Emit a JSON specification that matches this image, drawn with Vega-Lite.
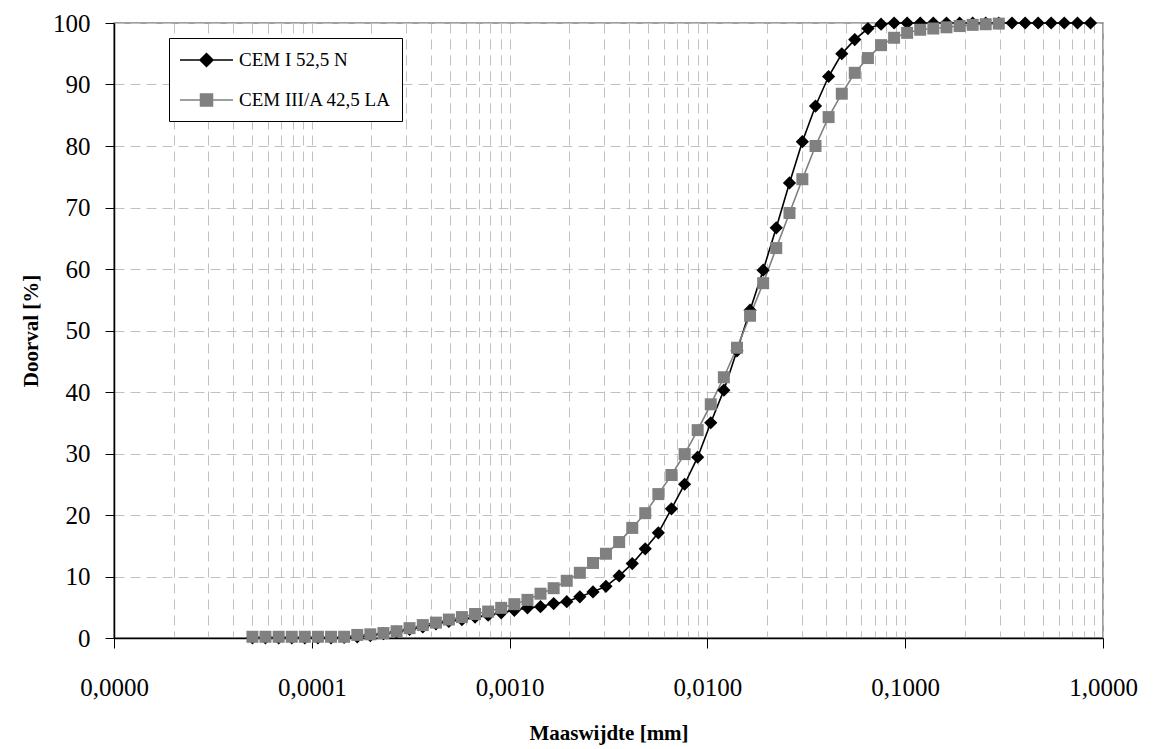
{
  "$schema": "https://vega.github.io/schema/vega-lite/v6.json",
  "width": 989,
  "height": 615,
  "autosize": {"type": "none"},
  "padding": {"left": 114, "top": 23, "right": 50, "bottom": 111},
  "background": "white",
  "config": {"view": {"stroke": "#808080", "strokeWidth": 1.5}, "font": "Liberation Serif"},
  "data": {"values": [
    {"series": "CEM I 52,5 N", "size": 0.0000501, "pct": 0},
    {"series": "CEM I 52,5 N", "size": 0.0000583, "pct": 0},
    {"series": "CEM I 52,5 N", "size": 0.000068, "pct": 0},
    {"series": "CEM I 52,5 N", "size": 0.0000792, "pct": 0},
    {"series": "CEM I 52,5 N", "size": 0.0000922, "pct": 0},
    {"series": "CEM I 52,5 N", "size": 0.0001074, "pct": 0},
    {"series": "CEM I 52,5 N", "size": 0.0001251, "pct": 0},
    {"series": "CEM I 52,5 N", "size": 0.0001457, "pct": 0.1},
    {"series": "CEM I 52,5 N", "size": 0.0001698, "pct": 0.2},
    {"series": "CEM I 52,5 N", "size": 0.0001977, "pct": 0.4},
    {"series": "CEM I 52,5 N", "size": 0.0002303, "pct": 0.7},
    {"series": "CEM I 52,5 N", "size": 0.0002682, "pct": 1.0},
    {"series": "CEM I 52,5 N", "size": 0.000312, "pct": 1.4},
    {"series": "CEM I 52,5 N", "size": 0.000364, "pct": 1.8},
    {"series": "CEM I 52,5 N", "size": 0.000424, "pct": 2.3},
    {"series": "CEM I 52,5 N", "size": 0.000493, "pct": 2.7},
    {"series": "CEM I 52,5 N", "size": 0.000574, "pct": 3.0},
    {"series": "CEM I 52,5 N", "size": 0.000669, "pct": 3.4},
    {"series": "CEM I 52,5 N", "size": 0.000779, "pct": 3.7},
    {"series": "CEM I 52,5 N", "size": 0.000907, "pct": 4.1},
    {"series": "CEM I 52,5 N", "size": 0.001057, "pct": 4.5},
    {"series": "CEM I 52,5 N", "size": 0.001231, "pct": 4.9},
    {"series": "CEM I 52,5 N", "size": 0.001433, "pct": 5.1},
    {"series": "CEM I 52,5 N", "size": 0.00167, "pct": 5.6},
    {"series": "CEM I 52,5 N", "size": 0.001945, "pct": 5.9},
    {"series": "CEM I 52,5 N", "size": 0.002265, "pct": 6.7},
    {"series": "CEM I 52,5 N", "size": 0.00264, "pct": 7.5},
    {"series": "CEM I 52,5 N", "size": 0.00307, "pct": 8.4},
    {"series": "CEM I 52,5 N", "size": 0.00358, "pct": 10.1},
    {"series": "CEM I 52,5 N", "size": 0.00417, "pct": 12.1},
    {"series": "CEM I 52,5 N", "size": 0.00485, "pct": 14.5},
    {"series": "CEM I 52,5 N", "size": 0.00565, "pct": 17.1},
    {"series": "CEM I 52,5 N", "size": 0.00658, "pct": 21.0},
    {"series": "CEM I 52,5 N", "size": 0.00767, "pct": 25.0},
    {"series": "CEM I 52,5 N", "size": 0.00893, "pct": 29.4},
    {"series": "CEM I 52,5 N", "size": 0.0104, "pct": 35.0},
    {"series": "CEM I 52,5 N", "size": 0.01211, "pct": 40.3},
    {"series": "CEM I 52,5 N", "size": 0.01411, "pct": 46.7},
    {"series": "CEM I 52,5 N", "size": 0.01643, "pct": 53.3},
    {"series": "CEM I 52,5 N", "size": 0.01914, "pct": 59.8},
    {"series": "CEM I 52,5 N", "size": 0.02229, "pct": 66.7},
    {"series": "CEM I 52,5 N", "size": 0.026, "pct": 74.0},
    {"series": "CEM I 52,5 N", "size": 0.0302, "pct": 80.7},
    {"series": "CEM I 52,5 N", "size": 0.0352, "pct": 86.5},
    {"series": "CEM I 52,5 N", "size": 0.041, "pct": 91.3},
    {"series": "CEM I 52,5 N", "size": 0.0478, "pct": 95.0},
    {"series": "CEM I 52,5 N", "size": 0.0556, "pct": 97.3},
    {"series": "CEM I 52,5 N", "size": 0.0648, "pct": 99.1},
    {"series": "CEM I 52,5 N", "size": 0.0755, "pct": 99.8},
    {"series": "CEM I 52,5 N", "size": 0.0879, "pct": 100},
    {"series": "CEM I 52,5 N", "size": 0.1023, "pct": 100},
    {"series": "CEM I 52,5 N", "size": 0.1191, "pct": 100},
    {"series": "CEM I 52,5 N", "size": 0.1387, "pct": 100},
    {"series": "CEM I 52,5 N", "size": 0.1617, "pct": 100},
    {"series": "CEM I 52,5 N", "size": 0.1884, "pct": 100},
    {"series": "CEM I 52,5 N", "size": 0.2193, "pct": 100},
    {"series": "CEM I 52,5 N", "size": 0.2553, "pct": 100},
    {"series": "CEM I 52,5 N", "size": 0.2972, "pct": 100},
    {"series": "CEM I 52,5 N", "size": 0.3467, "pct": 100},
    {"series": "CEM I 52,5 N", "size": 0.404, "pct": 100},
    {"series": "CEM I 52,5 N", "size": 0.47, "pct": 100},
    {"series": "CEM I 52,5 N", "size": 0.547, "pct": 100},
    {"series": "CEM I 52,5 N", "size": 0.637, "pct": 100},
    {"series": "CEM I 52,5 N", "size": 0.743, "pct": 100},
    {"series": "CEM I 52,5 N", "size": 0.865, "pct": 100},
    {"series": "CEM III/A 42,5 LA", "size": 0.0000501, "pct": 0.2},
    {"series": "CEM III/A 42,5 LA", "size": 0.0000583, "pct": 0.2},
    {"series": "CEM III/A 42,5 LA", "size": 0.000068, "pct": 0.2},
    {"series": "CEM III/A 42,5 LA", "size": 0.0000792, "pct": 0.2},
    {"series": "CEM III/A 42,5 LA", "size": 0.0000922, "pct": 0.2},
    {"series": "CEM III/A 42,5 LA", "size": 0.0001074, "pct": 0.2},
    {"series": "CEM III/A 42,5 LA", "size": 0.0001251, "pct": 0.2},
    {"series": "CEM III/A 42,5 LA", "size": 0.0001457, "pct": 0.2},
    {"series": "CEM III/A 42,5 LA", "size": 0.0001698, "pct": 0.5},
    {"series": "CEM III/A 42,5 LA", "size": 0.0001977, "pct": 0.6},
    {"series": "CEM III/A 42,5 LA", "size": 0.0002303, "pct": 0.8},
    {"series": "CEM III/A 42,5 LA", "size": 0.0002682, "pct": 1.1},
    {"series": "CEM III/A 42,5 LA", "size": 0.000312, "pct": 1.6},
    {"series": "CEM III/A 42,5 LA", "size": 0.000364, "pct": 2.1},
    {"series": "CEM III/A 42,5 LA", "size": 0.000424, "pct": 2.5},
    {"series": "CEM III/A 42,5 LA", "size": 0.000493, "pct": 3.0},
    {"series": "CEM III/A 42,5 LA", "size": 0.000574, "pct": 3.4},
    {"series": "CEM III/A 42,5 LA", "size": 0.000669, "pct": 3.9},
    {"series": "CEM III/A 42,5 LA", "size": 0.000779, "pct": 4.3},
    {"series": "CEM III/A 42,5 LA", "size": 0.000907, "pct": 4.9},
    {"series": "CEM III/A 42,5 LA", "size": 0.001057, "pct": 5.5},
    {"series": "CEM III/A 42,5 LA", "size": 0.001231, "pct": 6.2},
    {"series": "CEM III/A 42,5 LA", "size": 0.001433, "pct": 7.2},
    {"series": "CEM III/A 42,5 LA", "size": 0.00167, "pct": 8.1},
    {"series": "CEM III/A 42,5 LA", "size": 0.001945, "pct": 9.3},
    {"series": "CEM III/A 42,5 LA", "size": 0.002265, "pct": 10.6},
    {"series": "CEM III/A 42,5 LA", "size": 0.00264, "pct": 12.2},
    {"series": "CEM III/A 42,5 LA", "size": 0.00307, "pct": 13.7},
    {"series": "CEM III/A 42,5 LA", "size": 0.00358, "pct": 15.6},
    {"series": "CEM III/A 42,5 LA", "size": 0.00417, "pct": 17.9},
    {"series": "CEM III/A 42,5 LA", "size": 0.00485, "pct": 20.3},
    {"series": "CEM III/A 42,5 LA", "size": 0.00565, "pct": 23.4},
    {"series": "CEM III/A 42,5 LA", "size": 0.00658, "pct": 26.5},
    {"series": "CEM III/A 42,5 LA", "size": 0.00767, "pct": 29.9},
    {"series": "CEM III/A 42,5 LA", "size": 0.00893, "pct": 33.8},
    {"series": "CEM III/A 42,5 LA", "size": 0.0104, "pct": 38.0},
    {"series": "CEM III/A 42,5 LA", "size": 0.01211, "pct": 42.4},
    {"series": "CEM III/A 42,5 LA", "size": 0.01411, "pct": 47.2},
    {"series": "CEM III/A 42,5 LA", "size": 0.01643, "pct": 52.4},
    {"series": "CEM III/A 42,5 LA", "size": 0.01914, "pct": 57.7},
    {"series": "CEM III/A 42,5 LA", "size": 0.02229, "pct": 63.4},
    {"series": "CEM III/A 42,5 LA", "size": 0.026, "pct": 69.1},
    {"series": "CEM III/A 42,5 LA", "size": 0.0302, "pct": 74.6},
    {"series": "CEM III/A 42,5 LA", "size": 0.0352, "pct": 80.0},
    {"series": "CEM III/A 42,5 LA", "size": 0.041, "pct": 84.7},
    {"series": "CEM III/A 42,5 LA", "size": 0.0478, "pct": 88.5},
    {"series": "CEM III/A 42,5 LA", "size": 0.0556, "pct": 91.9},
    {"series": "CEM III/A 42,5 LA", "size": 0.0648, "pct": 94.3},
    {"series": "CEM III/A 42,5 LA", "size": 0.0755, "pct": 96.4},
    {"series": "CEM III/A 42,5 LA", "size": 0.0879, "pct": 97.6},
    {"series": "CEM III/A 42,5 LA", "size": 0.1023, "pct": 98.4},
    {"series": "CEM III/A 42,5 LA", "size": 0.1191, "pct": 98.9},
    {"series": "CEM III/A 42,5 LA", "size": 0.1387, "pct": 99.1},
    {"series": "CEM III/A 42,5 LA", "size": 0.1617, "pct": 99.3},
    {"series": "CEM III/A 42,5 LA", "size": 0.1884, "pct": 99.5},
    {"series": "CEM III/A 42,5 LA", "size": 0.2193, "pct": 99.7},
    {"series": "CEM III/A 42,5 LA", "size": 0.2553, "pct": 99.8},
    {"series": "CEM III/A 42,5 LA", "size": 0.2972, "pct": 99.9}
  ]},
  "encoding": {
    "x": {
      "field": "size", "type": "quantitative",
      "scale": {"type": "log", "domain": [0.00001, 1], "nice": false},
      "title": "Maaswijdte [mm]",
      "axis": {
        "values": [0.00001,0.00002,0.00003,0.00004,0.00005,0.00006,0.00007,0.00008,0.00009,
                   0.0001,0.0002,0.0003,0.0004,0.0005,0.0006,0.0007,0.0008,0.0009,
                   0.001,0.002,0.003,0.004,0.005,0.006,0.007,0.008,0.009,
                   0.01,0.02,0.03,0.04,0.05,0.06,0.07,0.08,0.09,
                   0.1,0.2,0.3,0.4,0.5,0.6,0.7,0.8,0.9,1],
        "labelExpr": "abs(log(datum.value)/LN10 - round(log(datum.value)/LN10)) < 0.001 ? replace(format(datum.value, '.4f'), '.', ',') : ''",
        "labelOverlap": false,
        "labelFlush": false,
        "grid": true, "gridColor": "#c0c0c0", "gridDash": [10, 6], "gridWidth": 1,
        "tickColor": "black", "tickSize": 10, "tickWidth": 1,
        "tickOpacity": {"condition": {"test": "abs(log(datum.value)/LN10 - round(log(datum.value)/LN10)) < 0.001", "value": 1}, "value": 0},
        "domainColor": "black", "domainWidth": 1.5,
        "labelFont": "Liberation Serif", "labelFontSize": 25, "labelColor": "black", "labelPadding": 27,
        "titleFont": "Liberation Serif", "titleFontSize": 21, "titleFontWeight": "bold", "titleColor": "black", "titlePadding": 22
      }
    },
    "y": {
      "field": "pct", "type": "quantitative",
      "scale": {"domain": [0, 100], "nice": false},
      "title": "Doorval [%]",
      "axis": {
        "values": [0,10,20,30,40,50,60,70,80,90,100],
        "grid": true, "gridColor": "#c0c0c0", "gridDash": [10, 6], "gridWidth": 1,
        "tickColor": "black", "tickSize": 9,
        "domainColor": "black", "domainWidth": 1.5,
        "labelFont": "Liberation Serif", "labelFontSize": 25, "labelColor": "black", "labelPadding": 15,
        "titleFont": "Liberation Serif", "titleFontSize": 21, "titleFontWeight": "bold", "titleColor": "black", "titlePadding": 11
      }
    },
    "color": {
      "field": "series", "type": "nominal",
      "scale": {"domain": ["CEM I 52,5 N", "CEM III/A 42,5 LA"], "range": ["#000000", "#808080"]},
      "legend": {
        "orient": "none", "legendX": 55, "legendY": 15,
        "title": null, "direction": "vertical",
        "padding": 11, "strokeColor": "black", "fillColor": "white",
        "labelFont": "Liberation Serif", "labelFontSize": 19, "labelColor": "black", "labelLimit": 400,
        "symbolType": "M-1.1,0H4.2M1.55,-0.65L2.2,0L1.55,0.65L0.9,0Z",
        "symbolSize": 400, "labelOffset": 37, "rowPadding": 19,
        "encode": {
          "symbols": {
            "enter": {
              "shape": {"signal": "datum.value === 'CEM I 52,5 N' ? 'M-1.1,0H4.2M1.55,-0.65L2.2,0L1.55,0.65L0.9,0Z' : 'M-1.1,0H4.2M0.95,-0.6H2.15V0.6H0.95Z'"}
            },
            "update": {
              "shape": {"signal": "datum.value === 'CEM I 52,5 N' ? 'M-1.1,0H4.2M1.55,-0.65L2.2,0L1.55,0.65L0.9,0Z' : 'M-1.1,0H4.2M0.95,-0.6H2.15V0.6H0.95Z'"},
              "fill": {"signal": "datum.value === 'CEM I 52,5 N' ? '#000000' : '#808080'"},
              "stroke": {"signal": "datum.value === 'CEM I 52,5 N' ? '#000000' : '#808080'"},
              "strokeWidth": {"value": 1.5},
              "opacity": {"value": 1},
              "fillOpacity": {"value": 1},
              "strokeOpacity": {"value": 1}
            }
          }
        }
      }
    }
  },
  "layer": [
    {"mark": {"type": "line", "strokeWidth": 1.6}, "encoding": {}},
    {
      "transform": [{"filter": "datum.series === 'CEM I 52,5 N'"}],
      "mark": {"type": "point", "filled": true, "opacity": 1, "shape": "diamond", "size": 175},
      "encoding": {}
    },
    {
      "transform": [{"filter": "datum.series === 'CEM III/A 42,5 LA'"}],
      "mark": {"type": "point", "filled": true, "opacity": 1, "shape": "square", "size": 144},
      "encoding": {}
    }
  ]
}
